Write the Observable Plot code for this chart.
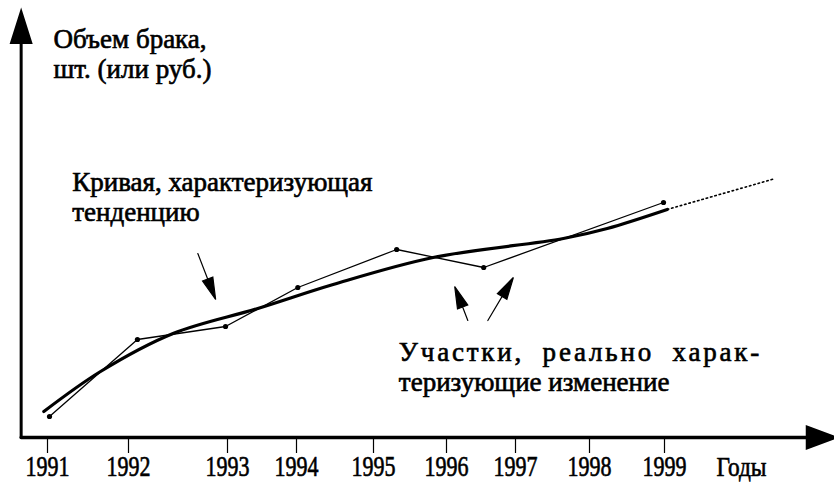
<!DOCTYPE html>
<html>
<head>
<meta charset="utf-8">
<script src="https://cdn.jsdelivr.net/npm/d3@7"></script>
<script src="https://cdn.jsdelivr.net/npm/@observablehq/plot@0.6"></script>
<style>
  html, body { margin: 0; padding: 0; background: #fff; }
  #chart svg { display: block; }
</style>
</head>
<body>
<div id="chart"></div>
<script>
// ---------- data ----------
const years = [1991, 1992, 1993, 1994, 1995, 1996, 1997, 1998, 1999];
const tickLabels = ["1991", "1992", "1993", "1994", "1995", "1996", "1997", "1998", "1999"];
const xTitle = "Годы";
const yTitle = "Объем брака,\nшт. (или руб.)";
const trendNote = "Кривая, характеризующая\nтенденцию";
const partsNote = "Участки, реально харак-\nтеризующие изменение";

// actual observations (thin broken line with dots)
const actualYear  = [1991, 1992.07, 1992.96, 1993.99, 1995.29, 1996.51, 1998.96];
const actualValue = [2.1, 9.8, 11.1, 15.0, 18.8, 17.0, 23.5];

// smoothed trend curve (thick)
const trendYear  = [1990.93, 1991.63, 1992.43, 1993.41, 1994.45, 1995.79, 1997.62, 1998.21, 1999.01];
const trendValue = [2.6, 6.6, 10.4, 12.9, 15.3, 18.0, 19.9, 20.9, 22.8];

// dotted continuation of the trend
const outlookYear  = [1999.01, 2000.45];
const outlookValue = [22.8, 25.9];

// annotation arrows: tail -> tip
const arrowFromYear  = [1992.68, 1996.28, 1996.57];
const arrowFromValue = [18.4, 11.7, 11.7];
const arrowToYear    = [1992.86, 1996.09, 1996.94];
const arrowToValue   = [13.8, 15.1, 16.0];

// annotation texts (anchored at the baseline of their last line)
const noteText  = [yTitle, trendNote, partsNote];
const noteYear  = [1991.05, 1991.28, 1995.32];
const noteValue = [36.0, 21.7, 4.7];

// axis frame (chart units)
const axisOriginYear = 1990.65;
const axisEndYear = 2001.24;
const axisTopValue = 42.5;
const titleYear = 2000;
const titleValue = -3.8;

// ---------- scales ----------
// the original figure spaces its years unevenly along the time axis
const drawnYearPos = [49, 130, 229, 298, 375, 448, 517, 591, 666];
const yearToAxis = d3.scaleLinear().domain(years).range(drawnYearPos);
const xScale = {type: "linear", domain: [0, 834], range: [0, 834], transform: yearToAxis, label: null};
const yScale = {domain: [0, axisTopValue], range: [437, 12]};
const sy = Plot.scale({y: yScale});

const actual  = actualYear.map((x, i) => ({x, y: actualValue[i]}));
const trend   = trendYear.map((x, i) => ({x, y: trendValue[i]}));
const outlook = outlookYear.map((x, i) => ({x, y: outlookValue[i]}));
const notes   = noteText.map((t, i) => ({x: noteYear[i], y: noteValue[i], text: t}));

// filled-head arrow shape
function arrowShape(headLen, headHalf) {
  return {
    draw(context, l) {
      context.moveTo(0, 0);
      context.lineTo(0, -l + headLen * 0.6);
      context.moveTo(0, -l);
      context.lineTo(-headHalf, -l + headLen);
      context.lineTo(headHalf, -l + headLen);
      context.closePath();
    }
  };
}

function arrowMark(x1, y1, x2, y2, opts) {
  const px1 = yearToAxis(x1), py1 = sy.apply(y1), px2 = yearToAxis(x2), py2 = sy.apply(y2);
  const dx = px2 - px1, dy = py2 - py1;
  const length = Math.hypot(dx, dy);
  const rotate = Math.atan2(dx, -dy) * 180 / Math.PI;
  return Plot.vector([{x: x2, y: y2}], {
    x: "x", y: "y", anchor: "end", length, rotate,
    shape: arrowShape(opts.headLen, opts.headHalf),
    stroke: "black", fill: "black", strokeWidth: opts.strokeWidth, strokeLinejoin: "miter"
  });
}

const noteArrows = arrowFromYear.map((x1, i) =>
  arrowMark(x1, arrowFromValue[i], arrowToYear[i], arrowToValue[i], {headLen: 22, headHalf: 5.5, strokeWidth: 1.2}));

const chart = Plot.plot({
  width: 834,
  height: 483,
  marginTop: 12,
  marginBottom: 46,
  marginLeft: 20,
  marginRight: 0,
  style: {fontFamily: "'Liberation Serif', 'Times New Roman', serif", fontSize: "26px", color: "black", background: "white", overflow: "visible"},
  x: xScale,
  y: {...yScale, axis: null},
  marks: [
    // axes with arrowheads
    arrowMark(axisOriginYear, 0, axisOriginYear, axisTopValue, {headLen: 30, headHalf: 9.5, strokeWidth: 3}),
    arrowMark(axisOriginYear, 0, axisEndYear, 0, {headLen: 27, headHalf: 10, strokeWidth: 3.5}),
    Plot.axisX(years, {
      tickSize: 16, tickPadding: 2, strokeWidth: 1.2, label: null,
      tickFormat: d => tickLabels[years.indexOf(d)],
      fontSize: 29, dx: -2
    }),
    Plot.text([xTitle], {x: () => titleYear, y: () => titleValue, text: d => d, fontSize: 28, lineAnchor: "bottom"}),
    // dotted continuation
    Plot.line(outlook, {x: "x", y: "y", stroke: "black", strokeWidth: 1.6, strokeDasharray: "1.5 3"}),
    // trend
    Plot.line(trend, {x: "x", y: "y", curve: "catmull-rom", stroke: "black", strokeWidth: 3.2}),
    // actual
    Plot.line(actual, {x: "x", y: "y", stroke: "black", strokeWidth: 1.3}),
    Plot.dot(actual, {x: "x", y: "y", r: 2.6, fill: "black"}),
    // annotation arrows
    ...noteArrows,
    // annotation texts
    Plot.text(notes, {x: "x", y: "y", text: "text", textAnchor: "start", lineAnchor: "bottom", lineHeight: 1.08, fontSize: 27, fill: "black"})
  ]
});

// typographic touches: heavier print look, condensed year digits, justified line
const svg = d3.select(chart);
svg.selectAll("text").attr("stroke", "black").attr("stroke-width", 0.65).attr("paint-order", "fill");
svg.selectAll("text").filter(function () { return tickLabels.includes(this.textContent); })
  .attr("textLength", 44).attr("lengthAdjust", "spacingAndGlyphs");
svg.selectAll("text").filter(function () { return this.textContent === xTitle; })
  .attr("textLength", 50).attr("lengthAdjust", "spacingAndGlyphs");
svg.selectAll("tspan").filter(function () { return this.textContent.startsWith("Участки"); })
  .style("word-spacing", "9px").style("letter-spacing", "2.8px");

document.getElementById("chart").appendChild(chart);
</script>
</body>
</html>
